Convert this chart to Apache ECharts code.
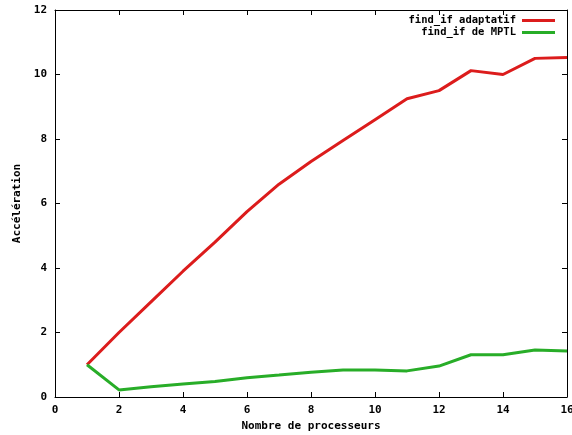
<!DOCTYPE html>
<html><head><meta charset="utf-8">
<script src="https://cdn.jsdelivr.net/npm/echarts@6/dist/echarts.min.js"></script>
<style>html,body{margin:0;padding:0;background:#fff}#c{width:572px;height:435px}</style>
</head><body><div id="c"></div>
<script>
const processors = [1,2,3,4,5,6,7,8,9,10,11,12,13,14,15,16];
const adaptatif = [1.0,2.0,2.95,3.9,4.8,5.75,6.6,7.3,7.95,8.6,9.25,9.5,10.12,10.0,10.5,10.53];
const mptl = [1.0,0.22,0.32,0.4,0.48,0.6,0.68,0.77,0.84,0.84,0.81,0.96,1.31,1.31,1.46,1.43];
const seriesNames = ['find_if adaptatif','find_if de MPTL'];
const xTicks = {min:0,max:16,interval:2};
const yTicks = {min:0,max:12,interval:2};

const font = 'DejaVu Sans Mono';
const lbl = {color:'#000',fontFamily:font,fontWeight:'bold',fontSize:11};
const axLine = {show:true,onZero:false,lineStyle:{color:'#000',width:1}};
const tick = {show:true,inside:true,length:5,lineStyle:{color:'#000'}};
const chart = echarts.init(document.getElementById('c'));
chart.setOption({
  animation:false,
  backgroundColor:'#fff',
  grid:{left:55,right:5,top:10,bottom:38,containLabel:false,outerBoundsMode:'none'},
  legend:{
    orient:'vertical', right:12, top:10, align:'right',
    itemWidth:33, itemHeight:3, itemGap:1,
    icon:'rect',
    textStyle:{color:'#000',fontFamily:font,fontWeight:'bold',fontSize:10.5,padding:[0,1,0,0]},
    data:seriesNames
  },
  xAxis:[{
    type:'value', min:xTicks.min, max:xTicks.max, interval:xTicks.interval,
    axisLine:axLine, axisTick:tick, splitLine:{show:false},
    axisLabel:Object.assign({margin:8},lbl),
    name:'Nombre de processeurs', nameLocation:'middle', nameGap:24,
    nameTextStyle:lbl
  },{
    type:'value', position:'top', min:xTicks.min, max:xTicks.max, interval:xTicks.interval,
    axisLine:axLine, axisTick:tick, axisLabel:{show:false}, splitLine:{show:false}
  }],
  yAxis:[{
    type:'value', min:yTicks.min, max:yTicks.max, interval:yTicks.interval,
    axisLine:axLine, axisTick:tick, splitLine:{show:false},
    axisLabel:Object.assign({margin:8},lbl),
    name:'Accélération', nameLocation:'middle', nameGap:32, nameRotate:90,
    nameTextStyle:lbl
  },{
    type:'value', position:'right', min:yTicks.min, max:yTicks.max, interval:yTicks.interval,
    axisLine:axLine, axisTick:tick, axisLabel:{show:false}, splitLine:{show:false}
  }],
  series:[{
    name:seriesNames[0], type:'line', showSymbol:false, symbol:'none',
    data:processors.map((p,i)=>[p,adaptatif[i]]),
    lineStyle:{color:'#dc1c1c',width:3}, itemStyle:{color:'#dc1c1c'}
  },{
    name:seriesNames[1], type:'line', showSymbol:false, symbol:'none',
    data:processors.map((p,i)=>[p,mptl[i]]),
    lineStyle:{color:'#28ad28',width:3}, itemStyle:{color:'#28ad28'}
  }]
});
</script></body></html>
